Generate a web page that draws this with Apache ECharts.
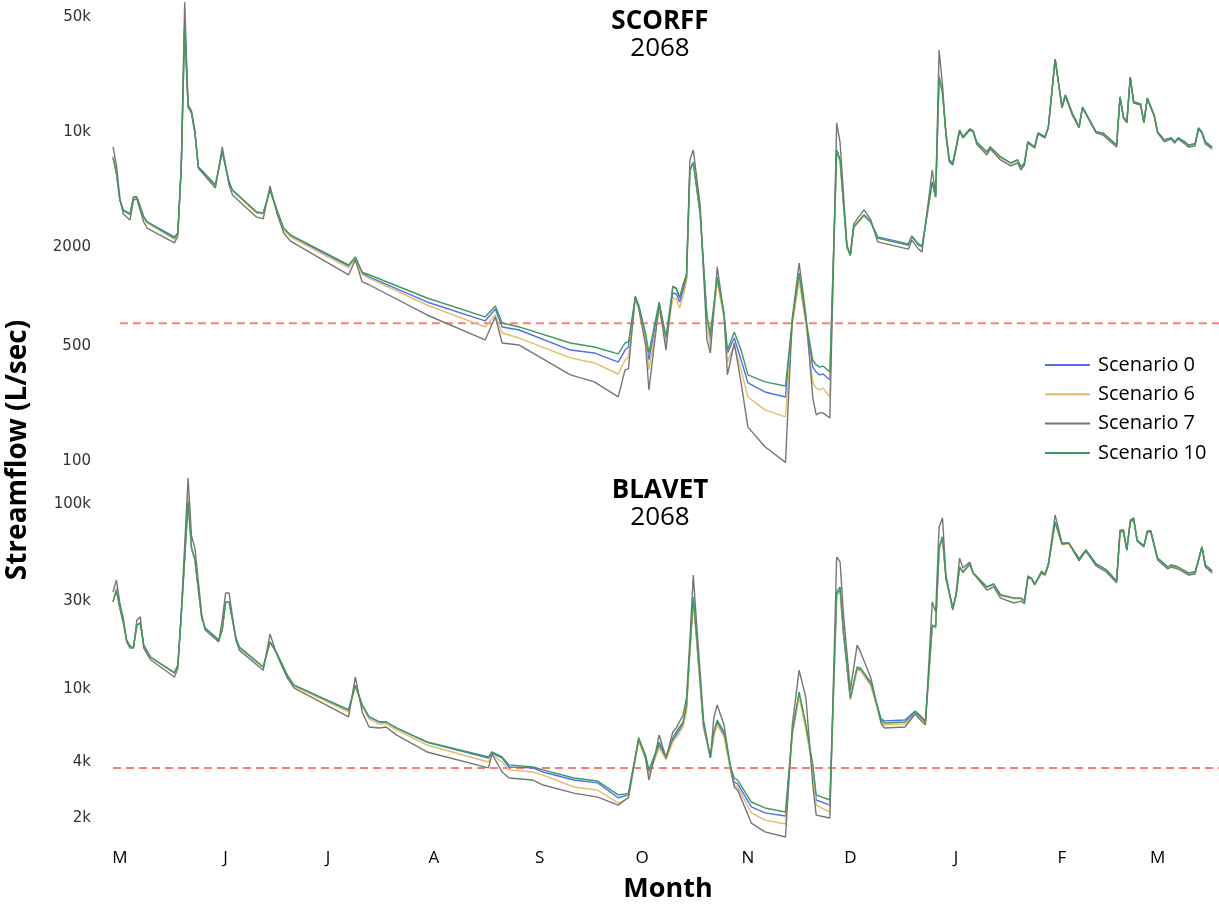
<!DOCTYPE html>
<html>
<head>
<meta charset="utf-8">
<script src="https://cdn.jsdelivr.net/npm/echarts@6/dist/echarts.min.js"></script>
<style>html,body{margin:0;padding:0;background:#fff}#c{width:1219px;height:906px}</style>
</head>
<body>
<div id="c"></div>
<script>
// ---- axis labels ----
const monthLabels = ['M','J','J','A','S','O','N','D','J','F','M'];
const monthStartDays = [0,31,61,92,123,153,184,214,245,276,304];
const scorffTicks = [100,500,2000,10000,50000];
const scorffTickLabels = ['100','500','2000','10k','50k'];
const blavetTicks = [2000,4000,10000,30000,100000];
const blavetTickLabels = ['2k','4k','10k','30k','100k'];
const scenarioNames = ['Scenario 0','Scenario 6','Scenario 7','Scenario 10'];
const scorffThreshold = 660;
const blavetThreshold = 3640;

// ---- SCORFF (days since 1 May) ----
const scorffDays = [-2,-1,0,1,3,4,5,7,8,16, 17,18,19,20,21,22,23,28,30,32,
 33,40,42,44,46,48,50,67,69,71, 73,90,107,110,112,117,132,139,146,148,
 149,151,152,154,155,158,160,162,163,164, 165,166,167,168,170,172,173,175,177,178,
 180,182,184,189,195,197,199,201,203,204, 205,206,208,210,211,213,214,215,218,220,
 222,231,232,234,235,238,239,240,241,242, 243,244,245,246,247,249,250,251,254,255,
 258,261,263,264,265,266,268,269,271,272, 274,276,277,279,281,282,286,288,292,293,
 294,295,296,297,299,300,301,303,304,306, 308,309,310,312,313,315,316,317,318,320];
const scorffS0 = [6760,5400,3700,3220,3040,3860,3860,2920,2720,2210,
 2330,5870,42900,13600,12500,9460,5870,4560,7250,4760,
 4260,3130,3080,4260,3220,2470,2240,1470,1640,1330,
 1260,888,681,805,626,600,453,435,383,453,
 473,939,839,551,394,851,536,1007,993,888,
 1035,1225,5630,6300,3080,710,522,1210,730,435,
 536,394,286,252,235,671,1240,671,357,333,
 320,324,298,7450,6480,1920,1710,2540,3000,2720,
 2210,2000,2240,2000,1940,4760,3860,20700,16500,9460,
 6480,6210,7770,9860,8940,10000,9720,8340,7250,7770,
 6760,6210,6480,5870,6210,8340,7770,9460,8940,10280,
 26600,13600,16090,12500,10280,13600,9590,9460,7990,15650,
 11830,11030,20700,14590,14190,11030,15430,12170,9590,8580,
 8820,8340,8820,8340,7990,8110,10140,9590,8340,7770];
const scorffS6 = [6850,5480,3700,3170,3000,3810,3810,2880,2680,2140,
 2300,5870,46000,13800,12500,9460,5790,4500,7350,4700,
 4200,3080,3040,4260,3170,2430,2210,1430,1620,1300,
 1240,851,626,740,575,536,406,378,324,394,
 411,913,816,522,343,794,500,939,926,816,
 966,1175,5480,6210,3040,690,473,1175,710,383,
 486,343,235,196,178,644,1210,644,286,266,
 259,266,235,7250,6300,1920,1710,2500,2960,2680,
 2170,1970,2210,1970,1920,4700,3860,21300,16800,9400,
 6420,6150,7700,9760,8850,9900,9620,8250,7180,7700,
 6690,6150,6420,5810,6150,8260,7700,9370,8850,10180,
 26600,13500,15900,12370,10180,13500,9500,9370,7910,15500,
 11710,10920,20500,14440,14050,10920,15280,12050,9500,8490,
 8730,8260,8730,8260,7910,8030,10040,9500,8260,7690];
const scorffS7 = [7770,6040,3810,3040,2800,3700,3750,2720,2500,2030,
 2240,6040,59000,14000,12870,9720,5790,4380,7770,4560,
 3970,2920,2840,4500,3080,2330,2080,1296,1600,1175,
 1130,740,522,720,500,486,320,290,235,343,
 348,966,816,486,259,863,453,1110,1065,939,
 1140,1296,6480,7450,3450,522,435,1450,740,320,
 500,286,154,117,94,710,1530,740,232,183,
 188,188,175,10880,8220,1970,1710,2650,3220,2800,
 2060,1860,2110,1860,1790,5630,3970,30200,18500,9190,
 6300,6040,7560,9720,8820,9860,9590,8110,6950,7560,
 6480,5960,6210,5630,6040,8220,7660,9320,8820,10140,
 26600,13420,15870,12170,10140,13420,9460,9190,7770,15650,
 11670,10880,20700,14390,13990,10880,15220,11990,9460,8340,
 8700,8220,8700,8110,7770,7880,10000,9460,8110,7560];
const scorffS10 = [6660,5400,3700,3220,3040,3860,3860,2920,2720,2170,
 2330,5870,41700,13600,12500,9460,5870,4560,7250,4760,
 4260,3130,3080,4260,3220,2500,2270,1490,1670,1350,
 1300,939,720,839,662,626,500,473,429,500,
 507,952,851,575,435,888,544,1095,1080,952,
 1095,1260,5630,6210,3080,720,575,1260,761,453,
 583,453,320,290,274,690,1330,690,394,368,
 357,362,333,7450,6480,1920,1710,2540,3000,2720,
 2170,1970,2210,1970,1920,4760,3860,20700,16500,9460,
 6480,6210,7770,9860,8940,10000,9720,8340,7250,7770,
 6760,6210,6480,5870,6210,8340,7770,9460,8940,10280,
 26600,13600,16090,12500,10280,13600,9590,9460,7990,15650,
 11830,11030,20700,14590,14190,11030,15430,12170,9590,8580,
 8820,8340,8820,8340,7990,8110,10140,9590,8340,7770];

// ---- BLAVET ----
const blavetDays = [-2,-1,0,1,2,3,4,5,6,7, 9,16,17,18,20,21,22,24,25,29,
 30,31,32,34,35,42,44,46,49,51, 67,69,71,73,76,78,81,90,108,109,
 112,114,121,124,133,140,146,148,149,152, 154,155,157,158,160,162,163,165,166,167,
 168,169,171,173,174,175,177,179,180,181, 185,189,195,197,199,201,203,204,208,210,
 211,212,214,216,217,220,223,224,230,233, 234,236,238,239,240,241,242,244,245,246,
 247,249,250,254,256,258,262,264,265,266, 267,268,270,271,272,274,276,278,281,283,
 286,289,292,293,294,295,296,297,298,300, 301,302,304,307,308,310,313,315,317,318, 320];
const blavetS0 = [28800,33400,26700,22400,17900,16600,16400,21600,22200,16800,
 14500,11900,13100,24500,101000,56400,48600,23600,20800,17900,
 20300,28800,28800,18400,16400,12800,17500,15200,11600,10200,
 7490,10200,7980,6870,6450,6450,5990,5000,4120,4380,
 4120,3680,3640,3460,3130,3020,2510,2570,2600,5160,
 4200,3460,4280,4840,4120,5160,5490,6290,7680,15800,
 29500,17900,6060,4170,5490,6450,5490,3550,3050,2980,
 2240,2080,2000,5560,9030,6060,3680,2440,2290,31800,
 33400,19300,8600,12600,12300,10360,6700,6540,6610,7400,
 7130,6540,21600,21100,56400,64700,38800,26700,31400,44500,
 41800,46200,41300,34700,36000,31400,30200,30200,29100,38800,
 38800,36000,41300,40300,45600,78000,59300,60000,49200,55000,
 46200,42900,37400,68800,69700,55000,78000,80900,62300,57800,
 68800,69700,49800,44500,45600,44500,41300,41800,57100,45600, 42300];
const blavetS6 = [29100,34300,27000,22400,17800,16500,16300,21600,22200,16700,
 14400,11800,13000,24500,109000,56400,48600,23600,20700,17800,
 20300,28800,28800,18300,16300,12700,17400,15100,11500,10100,
 7310,10000,7800,6700,6290,6290,5840,4840,3920,4300,
 3920,3550,3460,3330,2870,2760,2350,2440,2510,5030,
 4120,3330,4170,4670,4020,5030,5290,6060,7310,15400,
 28800,17500,5990,4120,5350,6220,5350,3460,2940,2870,
 2080,1900,1810,5490,8810,5840,3550,2290,2100,31400,
 32600,19100,8490,12300,12200,10100,6450,6220,6290,7130,
 6950,6370,21300,20800,55000,63900,38400,26400,31100,44000,
 41400,45700,40900,34400,35600,31100,29900,29900,28800,38400,
 38400,35600,40900,39900,45100,77200,58700,59400,48700,54500,
 45700,42500,37000,68100,69000,54500,77200,80100,61700,57200,
 68100,69000,49300,44100,45100,44100,40900,41400,56500,45100, 41900];
const blavetS7 = [32600,37900,28400,23600,17500,16200,16200,23000,23900,16200,
 14000,11300,12600,25400,135000,65500,56400,24500,20300,17500,
 23000,32200,32200,17900,15800,12300,19300,14900,11200,9860,
 6870,11300,7310,6060,5990,6060,5490,4440,3640,4330,
 3460,3210,3130,2940,2660,2530,2290,2440,2510,5290,
 4120,3130,4440,5490,4120,5700,5990,7040,8700,17900,
 40300,21600,6610,4120,6780,7980,6220,3550,2870,2760,
 1830,1640,1540,6220,12300,8700,2940,2020,1950,50400,
 47400,24500,9620,16800,15400,11200,6370,5990,6060,7130,
 6780,6220,28800,25400,73300,82000,40300,26000,32200,49800,
 44000,47400,41300,33400,34700,30200,28400,29100,28100,39800,
 38800,35600,42300,40800,46200,85100,60000,60000,48000,54300,
 45100,41800,36500,70600,70600,55000,79900,82000,61500,57100,
 69700,69700,48600,43400,44500,43400,40300,40800,57100,44500, 41300];
const blavetS10 = [28800,33400,26700,22400,17900,16600,16400,21600,22200,16800,
 14500,11900,13100,24500,100000,56400,48600,23600,20800,17900,
 20300,28800,28800,18400,16400,12800,17500,15200,11600,10200,
 7490,10200,7980,6870,6450,6450,5990,5030,4170,4440,
 4170,3780,3680,3550,3210,3090,2600,2630,2660,5290,
 4280,3550,4440,5030,4170,5290,5700,6450,7980,16200,
 30600,18400,6220,4170,5700,6610,5700,3640,3210,3130,
 2380,2210,2100,5700,9380,6220,3780,2600,2440,32600,
 34700,19800,8700,12800,12600,10600,6610,6370,6450,7310,
 7040,6450,21600,21100,56400,64700,38800,26700,31400,44500,
 41800,46200,41300,34700,36000,31400,30200,30200,29100,38800,
 38800,36000,41300,40300,45600,78000,59300,60000,49200,55000,
 46200,42900,37400,68800,69700,55000,78000,80900,62300,57800,
 68800,69700,49800,44500,45600,44500,41300,41800,57100,45600, 42300];

const colors = ['#4F6EF2', '#E3BD66', '#767676', '#3E9A5E'];
const TXT = '"Open Sans", "Noto Sans", sans-serif';

function zip(days, vals) { return days.map((d, i) => [d, vals[i]]); }
function tickFmt(ticks, labels) {
  return function (v) {
    let best = 0, bd = Infinity;
    ticks.forEach((t, i) => { const d = Math.abs(Math.log(t) - Math.log(v)); if (d < bd) { bd = d; best = i; } });
    return labels[best];
  };
}

const panels = [
  { days: scorffDays, vals: [scorffS0, scorffS6, scorffS7, scorffS10], thr: scorffThreshold, thrStart: 0 },
  { days: blavetDays, vals: [blavetS0, blavetS6, blavetS7, blavetS10], thr: blavetThreshold, thrStart: -2 }
];

const series = [];
panels.forEach((p, pi) => {
  series.push({
    type: 'line', xAxisIndex: pi, yAxisIndex: pi, silent: true, symbol: 'none',
    data: [[p.thrStart, p.thr], [322, p.thr]],
    lineStyle: { color: '#FF7B7B', width: 2, type: [8, 5] }, z: 1
  });
  p.vals.forEach((v, si) => {
    series.push({
      name: scenarioNames[si], type: 'line', xAxisIndex: pi, yAxisIndex: pi,
      symbol: 'none', data: zip(p.days, v),
      lineStyle: { color: colors[si], width: 1.4 }, itemStyle: { color: colors[si] }, z: 2 + si
    });
  });
});

const chart = echarts.init(document.getElementById('c'), null, { renderer: 'canvas' });
chart.setOption({
  animation: false,
  backgroundColor: '#fff',
  title: [
    { text: 'SCORFF', subtext: '2068', left: 655, top: 4, textAlign: 'center', itemGap: 1,
      textStyle: { fontFamily: TXT, fontSize: 26, fontWeight: 'bold', color: '#000' },
      subtextStyle: { fontFamily: TXT, fontSize: 26, color: '#000' } },
    { text: 'BLAVET', subtext: '2068', left: 655, top: 473, textAlign: 'center', itemGap: 1,
      textStyle: { fontFamily: TXT, fontSize: 26, fontWeight: 'bold', color: '#000' },
      subtextStyle: { fontFamily: TXT, fontSize: 26, color: '#000' } }
  ],
  legend: {
    data: scenarioNames, orient: 'vertical', left: 1040, top: 350,
    icon: 'rect', itemWidth: 45, itemHeight: 2, itemGap: 9.3,
    textStyle: { fontFamily: TXT, fontSize: 20, color: '#000', padding: [0, 0, 0, 3] }
  },
  grid: [
    { left: 113, right: 0, top: 0, height: 466 },
    { left: 113, right: 0, top: 475, height: 367 }
  ],
  xAxis: [
    { type: 'value', gridIndex: 0, min: -2, max: 322, show: false, splitLine: { show: false } },
    { type: 'value', gridIndex: 1, min: -2, max: 322,
      axisLine: { show: false }, axisTick: { show: false }, splitLine: { show: false },
      axisLabel: { customValues: monthStartDays, margin: 8, fontFamily: TXT, fontSize: 17, color: '#000',
        formatter: v => monthLabels[monthStartDays.indexOf(v)] } }
  ],
  yAxis: [
    { type: 'log', gridIndex: 0, min: 89.4, max: 60800,
      axisLine: { show: false }, axisTick: { show: false }, splitLine: { show: false }, minorSplitLine: { show: false },
      axisLabel: { customValues: scorffTicks, margin: 22, fontFamily: '"DejaVu Sans", sans-serif', fontSize: 15, color: '#333',
        verticalAlign: 'top', lineHeight: 6, formatter: tickFmt(scorffTicks, scorffTickLabels) } },
    { type: 'log', gridIndex: 1, min: 1446, max: 140000,
      axisLine: { show: false }, axisTick: { show: false }, splitLine: { show: false }, minorSplitLine: { show: false },
      axisLabel: { customValues: blavetTicks, margin: 22, fontFamily: '"DejaVu Sans", sans-serif', fontSize: 15, color: '#333',
        verticalAlign: 'top', lineHeight: 4, formatter: tickFmt(blavetTicks, blavetTickLabels) } }
  ],
  graphic: [
    { type: 'text', x: 18, y: 450, rotation: Math.PI / 2,
      style: { text: 'Streamflow (L/sec)', font: 'bold 28px "Open Sans", sans-serif', fill: '#000', align: 'center', verticalAlign: 'middle', textAlign: 'center', textVerticalAlign: 'middle' } },
    { type: 'text', x: 668, y: 889,
      style: { text: 'Month', font: 'bold 27px "Open Sans", sans-serif', fill: '#000', align: 'center', verticalAlign: 'middle', textAlign: 'center', textVerticalAlign: 'middle' } }
  ],
  series: series
});
</script>
</body>
</html>
